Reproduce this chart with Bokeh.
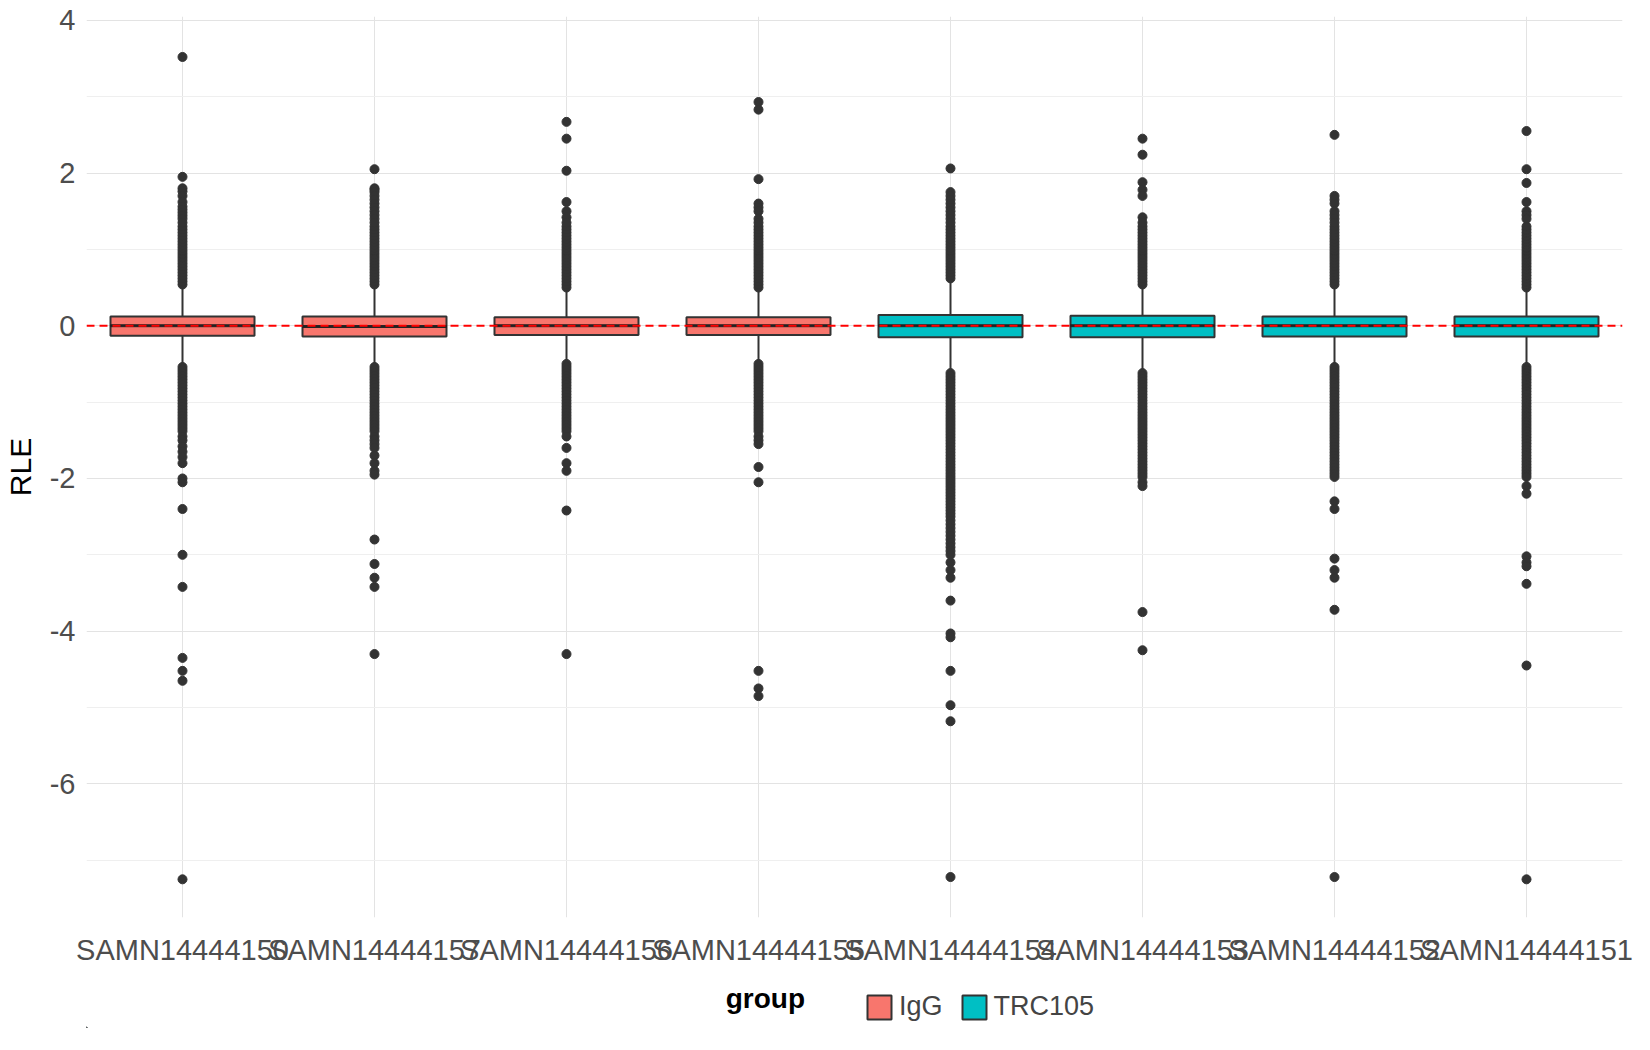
from bokeh.plotting import figure
from bokeh.models import ColumnDataSource, FixedTicker, Span, Legend, LegendItem, PrintfTickFormatter
from bokeh.layouts import column
from bokeh.core.properties import value
from bokeh.embed import file_html
from bokeh.resources import INLINE

samples = ["SAMN14444150","SAMN14444157","SAMN14444156","SAMN14444155",
           "SAMN14444154","SAMN14444153","SAMN14444152","SAMN14444151"]
groups = ["IgG","IgG","IgG","IgG","TRC105","TRC105","TRC105","TRC105"]
q1 = [-0.13,-0.14,-0.12,-0.12,-0.15,-0.15,-0.14,-0.14]
med = [0.0,-0.01,0.0,0.0,0.0,0.0,0.0,0.0]
q3 = [0.12,0.12,0.11,0.11,0.14,0.13,0.12,0.12]
wlo = [-0.5,-0.5,-0.45,-0.45,-0.58,-0.58,-0.52,-0.52]
whi = [0.5,0.5,0.45,0.45,0.58,0.52,0.5,0.48]

dense_hi = [0.5,0.54,0.58,0.62,0.66,0.7,0.74,0.78,0.82,0.86,0.9,0.94,0.98,1.02,1.06,1.1,1.14,1.18,1.22,1.26,1.3]
dense_lo = [-0.5,-0.54,-0.58,-0.62,-0.66,-0.7,-0.74,-0.78,-0.82,-0.86,-0.9,-0.94,-0.98,-1.02,-1.06,-1.1,-1.14,-1.18,-1.22,-1.26,-1.3,-1.34,-1.38]
deep_lo = [-1.42,-1.46,-1.5,-1.54,-1.58,-1.62,-1.66,-1.7,-1.74,-1.78,-1.82,-1.86,-1.9,-1.94,-1.98]
deeper_lo = [-2.02,-2.06,-2.1,-2.14,-2.18,-2.22,-2.26,-2.3,-2.34,-2.38,-2.42,-2.46,-2.5,-2.55,-2.6,-2.65,-2.7,-2.75,-2.8,-2.85,-2.9,-2.95,-3.0]

extra = {
 "SAMN14444150": [3.52,1.95,1.8,1.76,1.7,1.62,1.56,1.52,1.48,1.44,1.4,1.35,
                  -1.45,-1.5,-1.58,-1.65,-1.72,-1.8,-2.0,-2.05,-2.4,-3.0,-3.42,-4.35,-4.52,-4.65,-7.25],
 "SAMN14444157": [2.05,1.8,1.78,1.75,1.7,1.65,1.6,1.55,1.5,1.45,1.4,1.35,
                  -1.45,-1.5,-1.55,-1.6,-1.7,-1.8,-1.9,-1.95,-2.8,-3.12,-3.3,-3.42,-4.3],
 "SAMN14444156": [2.67,2.45,2.03,1.62,1.5,1.42,1.35,-1.45,-1.6,-1.8,-1.9,-2.42,-4.3],
 "SAMN14444155": [2.93,2.83,1.92,1.6,1.55,1.5,1.4,1.35,-1.45,-1.5,-1.55,-1.85,-2.05,-4.52,-4.75,-4.85],
 "SAMN14444154": [2.06,1.75,1.7,1.65,1.6,1.55,1.5,1.45,1.4,1.35,
                  -3.1,-3.2,-3.3,-3.6,-4.03,-4.08,-4.52,-4.97,-5.18,-7.22],
 "SAMN14444153": [2.45,2.24,1.88,1.78,1.7,1.42,1.35,-2.05,-2.1,-3.75,-4.25],
 "SAMN14444152": [2.5,1.7,1.65,1.6,1.5,1.45,1.4,1.35,-2.3,-2.4,-3.05,-3.2,-3.3,-3.72,-7.22],
 "SAMN14444151": [2.55,2.05,1.87,1.62,1.5,1.45,1.4,-2.1,-2.2,-3.02,-3.1,-3.15,-3.38,-4.45,-7.25],
}
group_names = ["IgG", "TRC105"]
colors = {"IgG": "#F8766D", "TRC105": "#00BFC4"}

p = figure(x_range=samples, y_range=(-7.75, 4.05), width=1634, height=968,
           output_backend="svg", toolbar_location=None,
           min_border_left=10, min_border_right=12, min_border_top=16, min_border_bottom=4)
p.outline_line_color = None

p.segment(x0=samples, y0=wlo, x1=samples, y1=whi, line_color="#333333", line_width=2)

ox, oy = [], []
for i, s in enumerate(samples):
    vals = list(dense_hi) + list(dense_lo) + list(extra[s])
    if groups[i] == "TRC105":
        vals += deep_lo
    if s == "SAMN14444154":
        vals += deeper_lo
    for v in vals:
        if v > whi[i] or v < wlo[i]:
            ox.append(s); oy.append(v)
p.scatter(x=ox, y=oy, size=9, color="#333333")

for g in group_names:
    idx = [i for i in range(len(samples)) if groups[i] == g]
    src = ColumnDataSource(dict(x=[samples[i] for i in idx], top=[q3[i] for i in idx],
                                bottom=[q1[i] for i in idx]))
    p.vbar(x="x", top="top", bottom="bottom", width=0.75, source=src,
           fill_color=colors[g], line_color="#333333", line_width=2)

p.rect(x=samples, y=med, width=0.75, height=0.025, fill_color="#222222", line_color="#222222")
p.add_layout(Span(location=0, dimension="width", line_color="red", line_dash="8 5", line_width=2))

p.yaxis.ticker = FixedTicker(ticks=[-6, -4, -2, 0, 2, 4], minor_ticks=[-7, -5, -3, -1, 1, 3])
p.yaxis.formatter = PrintfTickFormatter(format="%d")
p.ygrid.grid_line_color = "#e3e3e3"
p.ygrid.minor_grid_line_color = "#efefef"
p.xgrid.grid_line_color = "#e3e3e3"
for ax in (p.xaxis, p.yaxis):
    ax.axis_line_color = None
    ax.major_tick_line_color = None
    ax.minor_tick_line_color = None
    ax.major_label_text_font = "Liberation Sans"
    ax.major_label_text_font_size = "29px"
    ax.major_label_text_color = "#4d4d4d"
p.yaxis.axis_label = "RLE"
p.yaxis.axis_label_text_font = "Liberation Sans"
p.yaxis.axis_label_text_font_size = "30px"
p.yaxis.axis_label_text_font_style = "normal"
p.yaxis.axis_label_text_color = "black"
p.yaxis.axis_label_standoff = 10
p.xaxis.major_label_standoff = 10

# legend strip
lg = figure(width=1634, height=60, x_range=(0, 1634), y_range=(0, 60),
            output_backend="svg", toolbar_location=None, min_border=0)
lg.outline_line_color = None
lg.axis.visible = False
lg.grid.visible = False
items = []
for g in group_names:
    r = lg.vbar(x=[-100], top=[1], bottom=[0], width=1, fill_color=colors[g],
                line_color="#333333", line_width=2)
    items.append(LegendItem(label=g, renderers=[r]))
lg.text(x=[680], y=[30], text=["group"], text_font=value("Liberation Sans"),
        text_font_size="28px", text_font_style="bold", text_baseline="middle")
leg = Legend(items=items, orientation="horizontal", location=(778, 6),
             label_text_font="Liberation Sans", label_text_font_size="27px",
             glyph_width=30, glyph_height=30, spacing=16, border_line_color=None,
             background_fill_alpha=0, padding=4, margin=0)
lg.add_layout(leg)

open("out.html", "w").write(file_html(column(p, lg, spacing=0), INLINE))
